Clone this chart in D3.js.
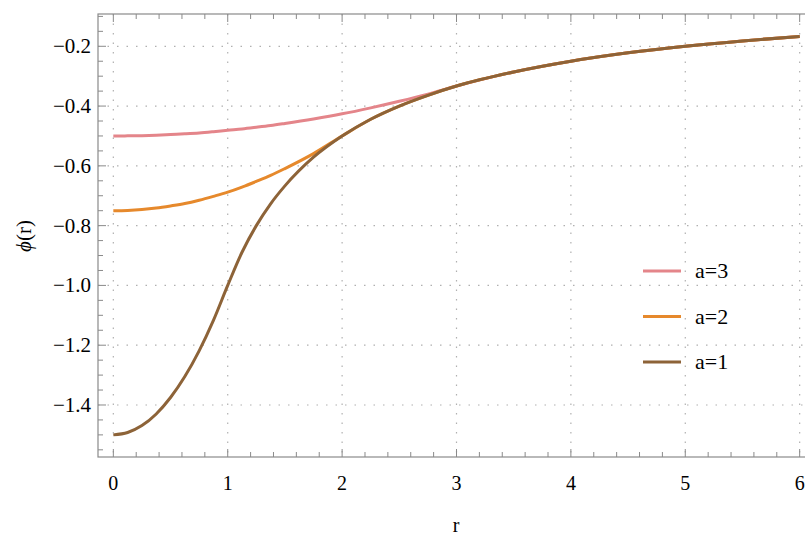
<!DOCTYPE html>
<html>
<head>
<meta charset="utf-8">
<script src="https://cdn.jsdelivr.net/npm/d3@7"></script>
<style>
  body { margin: 0; background: #fff; }
</style>
</head>
<body>
<div id="chart"></div>
<script>
// sample radii and phi(r)
var radii = [0, 0.125, 0.25, 0.375, 0.5, 0.625, 0.75, 0.875, 1, 1.125, 1.25, 1.375, 1.5, 1.75, 2, 2.25, 2.5, 2.75, 3, 3.5, 4, 4.5, 5, 5.5, 6];
var phiA1 = [-1.5, -1.492, -1.469, -1.43, -1.375, -1.305, -1.219, -1.117, -1.0, -0.889, -0.8, -0.727, -0.667, -0.571, -0.5, -0.444, -0.4, -0.364, -0.333, -0.286, -0.25, -0.222, -0.2, -0.182, -0.167];
var phiA2 = [-0.75, -0.749, -0.746, -0.741, -0.734, -0.726, -0.715, -0.702, -0.688, -0.671, -0.652, -0.632, -0.609, -0.559, -0.5, -0.444, -0.4, -0.364, -0.333, -0.286, -0.25, -0.222, -0.2, -0.182, -0.167];
var phiA3 = [-0.5, -0.4997, -0.499, -0.4974, -0.495, -0.4928, -0.49, -0.4858, -0.481, -0.4766, -0.471, -0.465, -0.458, -0.443, -0.426, -0.406, -0.384, -0.36, -0.333, -0.286, -0.25, -0.222, -0.2, -0.182, -0.167];
var seriesNames = ["a=3", "a=2", "a=1"];
var seriesColors = ["#e4858a", "#e6892c", "#8d6338"];
var xTicks = [0, 1, 2, 3, 4, 5, 6];
var yTicks = [-1.4, -1.2, -1.0, -0.8, -0.6, -0.4, -0.2];

var width = 805,
    height = 535;
var frame = { left: 98, right: 815, top: 14, bottom: 457 };
var serif = "'Liberation Serif', 'Times New Roman', Times, 'DejaVu Serif', serif";

var svg = d3.select("#chart")
  .append("svg")
    .attr("width", width)
    .attr("height", height)
    .attr("font-family", serif)
    .style("font-family", serif);

var x = d3.scaleLinear()
  .domain([-0.134, 6.134])
  .range([frame.left, frame.right]);
var y = d3.scaleLinear()
  .domain([-1.574, -0.092])
  .range([frame.bottom, frame.top]);

var frameColor = "#8a8a8a";
var gridColor = "#b0b0b0";

// dotted grid at major ticks
svg.append("g")
  .selectAll("line")
  .data(xTicks)
  .enter()
    .append("line")
      .attr("x1", function(d) { return x(d); })
      .attr("x2", function(d) { return x(d); })
      .attr("y1", frame.top)
      .attr("y2", frame.bottom)
      .attr("stroke", gridColor)
      .attr("stroke-width", 1.2)
      .attr("stroke-dasharray", "1.5,8");
svg.append("g")
  .selectAll("line")
  .data(yTicks)
  .enter()
    .append("line")
      .attr("x1", frame.left)
      .attr("x2", frame.right)
      .attr("y1", function(d) { return y(d); })
      .attr("y2", function(d) { return y(d); })
      .attr("stroke", gridColor)
      .attr("stroke-width", 1.2)
      .attr("stroke-dasharray", "1.5,8");

// ticks, pointing inward
var xMinor = d3.range(0, 31).map(function(i) { return i * 0.2; });
var yMinor = d3.range(-31, -1).map(function(i) { return i * 0.05; });

function isMajor(v, step) {
  return Math.abs(v / step - Math.round(v / step)) < 1e-6;
}

var ticks = svg.append("g").attr("stroke", frameColor).attr("stroke-width", 1);
xMinor.forEach(function(v) {
  var len = isMajor(v, 1) ? 8 : 5;
  ticks.append("line").attr("x1", x(v)).attr("x2", x(v))
    .attr("y1", frame.bottom).attr("y2", frame.bottom - len);
  ticks.append("line").attr("x1", x(v)).attr("x2", x(v))
    .attr("y1", frame.top).attr("y2", frame.top + len);
});
yMinor.filter(function(v) { return v >= -1.574 && v <= -0.092; }).forEach(function(v) {
  var len = isMajor(v, 0.2) ? 8 : 5;
  ticks.append("line").attr("x1", frame.left).attr("x2", frame.left + len)
    .attr("y1", y(v)).attr("y2", y(v));
});

// frame
svg.append("rect")
  .attr("x", frame.left)
  .attr("y", frame.top)
  .attr("width", frame.right - frame.left)
  .attr("height", frame.bottom - frame.top)
  .attr("fill", "none")
  .attr("stroke", frameColor)
  .attr("stroke-width", 1.2);

// tick labels
var formatY = function(d) { return d3.format(".1f")(d).replace("-", "\u2212"); };
svg.append("g")
  .selectAll("text")
  .data(yTicks)
  .enter()
    .append("text")
      .attr("x", 91)
      .attr("y", function(d) { return y(d) + 7; })
      .attr("text-anchor", "end")
      .attr("font-size", "21px")
      .text(formatY);
svg.append("g")
  .selectAll("text")
  .data(xTicks)
  .enter()
    .append("text")
      .attr("x", function(d) { return x(d); })
      .attr("y", 490)
      .attr("text-anchor", "middle")
      .attr("font-size", "20px")
      .text(function(d) { return d; });

// axis titles
svg.append("text")
  .attr("x", 456)
  .attr("y", 532)
  .attr("text-anchor", "middle")
  .attr("font-size", "20px")
  .text("r");
var yTitle = svg.append("text")
  .attr("transform", "translate(31,236) rotate(-90)")
  .attr("text-anchor", "middle")
  .attr("font-size", "21px");
yTitle.append("tspan").attr("font-style", "italic").text("\u03d5");
yTitle.append("tspan").text("(r)");

// curves
var line = d3.line()
  .x(function(d) { return x(d[0]); })
  .y(function(d) { return y(d[1]); })
  .curve(d3.curveMonotoneX);

var seriesValues = [phiA3, phiA2, phiA1];
seriesValues.forEach(function(values, i) {
  var points = radii.map(function(r, j) { return [r, values[j]]; });
  svg.append("path")
    .datum(points)
    .attr("d", line)
    .attr("fill", "none")
    .attr("stroke", seriesColors[i])
    .attr("stroke-width", 3);
});

// legend
var legend = svg.append("g")
  .selectAll("g")
  .data(seriesNames)
  .enter()
    .append("g")
      .attr("transform", function(d, i) { return "translate(0," + (271 + i * 45.5) + ")"; });
legend.append("line")
  .attr("x1", 643)
  .attr("x2", 681)
  .attr("stroke", function(d, i) { return seriesColors[i]; })
  .attr("stroke-width", 3);
legend.append("text")
  .attr("x", 695)
  .attr("y", 7)
  .attr("font-size", "22px")
  .text(function(d) { return d; });
</script>
</body>
</html>
